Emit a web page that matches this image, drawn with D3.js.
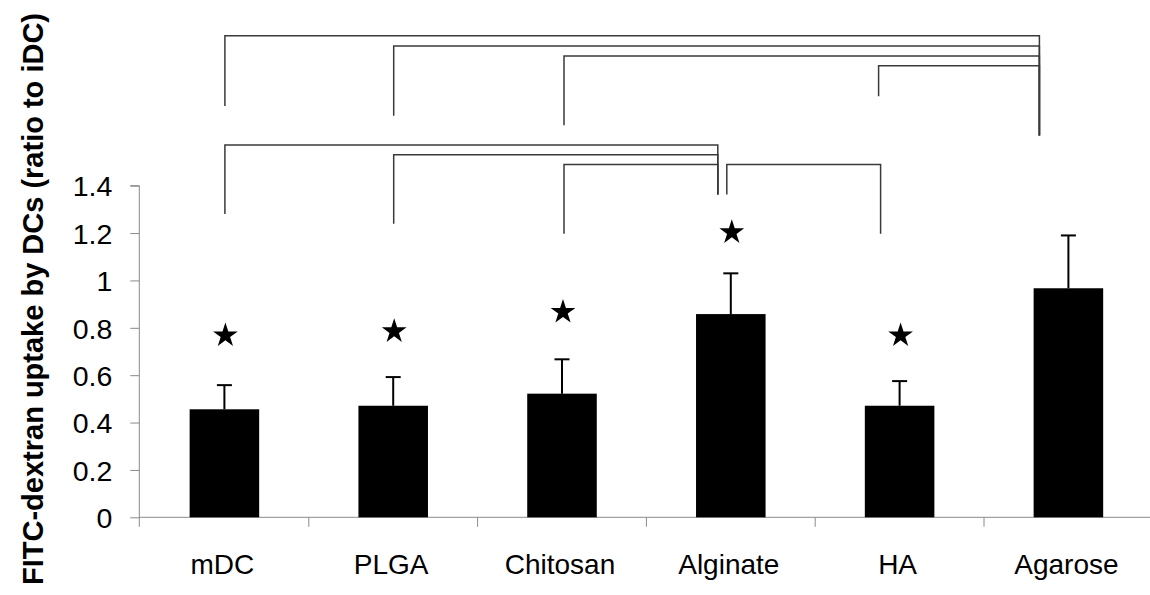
<!DOCTYPE html>
<html>
<head>
<meta charset="utf-8">
<script src="https://cdnjs.cloudflare.com/ajax/libs/d3/7.8.5/d3.min.js"></script>
<style>
  html, body { margin: 0; padding: 0; background: #fff; }
  svg { display: block; }
</style>
</head>
<body>
<svg id="chart" width="1150" height="595"></svg>
<script>
// ---- data ----
const categories = ["mDC", "PLGA", "Chitosan", "Alginate", "HA", "Agarose"];
const means      = [0.456, 0.471, 0.522, 0.858, 0.471, 0.967];
const errUpper   = [0.102, 0.121, 0.145, 0.172, 0.104, 0.223];
const starLevels = [0.768, 0.785, 0.867, 1.203, 0.768, null];
const yTickValues = [0, 0.2, 0.4, 0.6, 0.8, 1, 1.2, 1.4];
const yTickLabels = ["0", "0.2", "0.4", "0.6", "0.8", "1", "1.2", "1.4"];
const yLabel = "FITC-dextran uptake by DCs (ratio to iDC)";
// significance brackets (levels in axis units)
const bracketFrom  = ["mDC", "PLGA", "Chitosan", "HA", "mDC", "PLGA", "Chitosan", "HA"];
const bracketTo    = ["Agarose", "Agarose", "Agarose", "Agarose", "Alginate", "Alginate", "Alginate", "Alginate"];
const bracketTop   = [2.033, 1.990, 1.948, 1.906, 1.572, 1.531, 1.490, 1.490];
const bracketFromEnd = [1.737, 1.695, 1.655, 1.778, 1.280, 1.239, 1.197, 1.197];
const bracketToEnd   = [1.612, 1.612, 1.612, 1.612, 1.363, 1.363, 1.363, 1.363];

// ---- layout ----
const svg = d3.select("#chart");
const x0 = 140, xBand = 168.8;
const x = d3.scaleBand().domain(categories).range([x0, x0 + xBand * categories.length]).padding(0);
const y = d3.scaleLinear().domain([0, 1.4]).range([517.3, 185.7]);
const axisX = 139.3;
const barW = x.bandwidth() * 0.412;
const cx = c => x(c) + x.bandwidth() / 2;
const axisColor = "#8a8a8a";
const fontFam = "'Liberation Sans', Arial, Helvetica, sans-serif";

// y axis
const yAxis = d3.axisLeft(y).tickValues(yTickValues).tickSize(9).tickPadding(18)
  .tickFormat((d, i) => yTickLabels[i]);
const gy = svg.append("g").attr("transform", `translate(${axisX},0)`).call(yAxis);
gy.select(".domain").attr("stroke", axisColor).attr("d", `M-9,${y(1.4)}H0V${y(0) + 9.5}`);
gy.selectAll(".tick line").attr("stroke", axisColor);
gy.selectAll(".tick text")
  .attr("dy", "0.36em")
  .attr("fill", "#000")
  .style("font-family", fontFam).style("font-size", "28.5px");

// x axis
const gx = svg.append("g").attr("transform", `translate(0,${y(0)})`);
gx.append("line").attr("x1", axisX).attr("x2", 1150).attr("y1", 0).attr("y2", 0)
  .attr("stroke", axisColor).attr("stroke-width", 1);
const boundaries = categories.map(c => x(c)).slice(1);
gx.selectAll("line.tk").data(boundaries).join("line").attr("class", "tk")
  .attr("x1", d => d).attr("x2", d => d).attr("y1", 0).attr("y2", 9.5)
  .attr("stroke", axisColor);
gx.selectAll("text.cat").data(categories).join("text").attr("class", "cat")
  .attr("text-anchor", "middle")
  .attr("x", d => cx(d) - 2)
  .attr("y", 574 - y(0))
  .style("font-family", fontFam).style("font-size", "28px").attr("fill", "#000")
  .text(d => d);

// bars
svg.append("g").selectAll("rect").data(categories).join("rect")
  .attr("x", d => cx(d) - barW / 2)
  .attr("width", barW)
  .attr("y", (d, i) => y(means[i]))
  .attr("height", (d, i) => y(0) - y(means[i]))
  .attr("fill", "#000");

// error bars
const eg = svg.append("g").attr("stroke", "#000").attr("stroke-width", 2);
categories.forEach((c, i) => {
  const top = y(means[i] + errUpper[i]);
  eg.append("line").attr("x1", cx(c)).attr("x2", cx(c)).attr("y1", y(means[i])).attr("y2", top);
  eg.append("line").attr("x1", cx(c) - 7.5).attr("x2", cx(c) + 7.5).attr("y1", top).attr("y2", top);
});

// stars
const starR = 13;
const star = d3.symbol().type(d3.symbolStar).size(starR * starR / 0.89081309152928522810);
svg.append("g").selectAll("path").data(categories.filter((c, i) => starLevels[i] != null)).join("path")
  .attr("d", star)
  .attr("transform", d => {
    const i = categories.indexOf(d);
    return `translate(${cx(d) + 1},${y(starLevels[i])})`;
  })
  .attr("fill", "#000");

// brackets
function legShift(cat, other) {
  const upper = other === "Agarose" || cat === "Agarose";
  if (cat === "Agarose") return -29;
  if (cat === "HA") return upper ? -21 : -19;
  if (cat === "Alginate") return other === "HA" ? -4 : -13;
  if (cat === "Chitosan") return 2;
  return 0.5;
}
const bg = svg.append("g").attr("fill", "none").attr("stroke", "#3a3a3a").attr("stroke-width", 1.5);
bracketFrom.forEach((a, i) => {
  const b = bracketTo[i];
  const xa = cx(a) + legShift(a, b);
  const xb = cx(b) + legShift(b, a);
  bg.append("path").attr("d",
    `M${xa},${y(bracketFromEnd[i])}V${y(bracketTop[i])}H${xb}V${y(bracketToEnd[i])}`);
});

// y label
svg.append("text")
  .attr("transform", `translate(43.3,299) rotate(-90)`)
  .attr("text-anchor", "middle")
  .style("font-family", fontFam).style("font-size", "29px").style("font-weight", "bold")
  .attr("fill", "#000")
  .text(yLabel);
</script>
</body>
</html>
